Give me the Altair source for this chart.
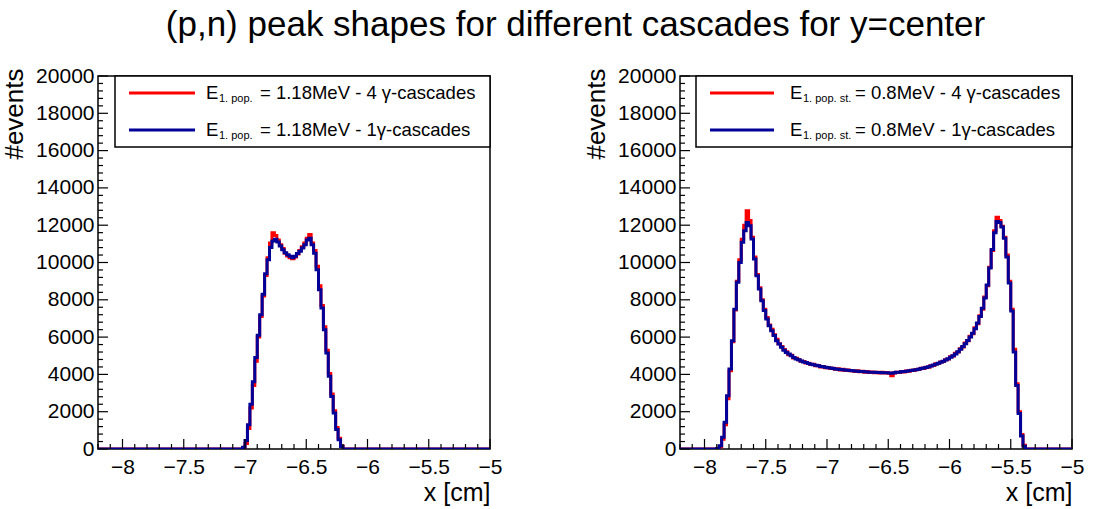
import altair as alt
import pandas as pd

FONT = "Liberation Sans"
BIN = 0.02
X_MIN, X_MAX = -8.2, -5.0
N_BINS = 160

# ---------------- data ----------------
left_start = -7.02
left_blue = [100, 450, 1300, 2400, 3600, 4900, 6100, 7200, 8300, 9400,
             10150, 10800, 11150, 11250, 11100, 10880, 10690, 10520, 10420, 10330,
             10250, 10330, 10480, 10600, 10780, 10950, 11200, 11300, 10950, 10500,
             9610, 8540, 7560, 6400, 5150, 3900, 2820, 1930, 1040, 500,
             140]
left_red = [30, 300, 1100, 2200, 3400, 4700, 6000, 7100, 8200, 9300,
            10250, 11050, 11600, 11450, 11200, 10950, 10750, 10500, 10350, 10250,
            10200, 10300, 10450, 10650, 10850, 11050, 11300, 11500, 11050, 10650,
            9800, 8750, 7700, 6550, 5300, 4050, 2950, 2050, 1150, 580,
            180]

right_start = -7.90
right_blue = [30, 180, 625, 1430, 2860, 4290, 5810, 7500, 8940, 10000,
              11080, 11700, 12150, 11970, 11260, 10190, 9290, 8580, 7950, 7420,
              6970, 6610, 6340, 6080, 5810, 5630, 5450, 5300, 5180, 5090,
              5000, 4910, 4830, 4780, 4720, 4670, 4640, 4590, 4550, 4520,
              4490, 4460, 4430, 4410, 4380, 4360, 4340, 4310, 4290, 4280,
              4260, 4250, 4230, 4220, 4210, 4190, 4180, 4170, 4160, 4150,
              4140, 4130, 4120, 4110, 4110, 4100, 4100, 4090, 4090, 4090,
              4080, 4060, 4090, 4110, 4120, 4140, 4150, 4170, 4190, 4210,
              4230, 4250, 4280, 4310, 4340, 4370, 4410, 4450, 4500, 4550,
              4600, 4650, 4700, 4770, 4840, 4920, 5000, 5100, 5220, 5350,
              5500, 5650, 5820, 6000, 6200, 6450, 6750, 7100, 7550, 8100,
              8800, 9700, 10700, 11600, 12200, 12150, 11900, 11300, 10300, 8900,
              7400, 5200, 3400, 1900, 700, 150]
right_red = [10, 120, 520, 1300, 2700, 4200, 5750, 7450, 9000, 10150,
             11250, 12000, 12780, 12250, 11350, 10300, 9350, 8650, 8000, 7500,
             7050, 6650, 6420, 6120, 5880, 5650, 5500, 5330, 5220, 5060,
             5030, 4880, 4860, 4790, 4700, 4690, 4610, 4600, 4530, 4540,
             4470, 4480, 4400, 4420, 4350, 4370, 4320, 4330, 4270, 4300,
             4240, 4270, 4210, 4240, 4190, 4200, 4150, 4190, 4140, 4170,
             4120, 4150, 4100, 4130, 4090, 4120, 4080, 4110, 4070, 4100,
             4060, 3930, 4070, 4120, 4100, 4150, 4130, 4180, 4170, 4220,
             4210, 4260, 4270, 4330, 4320, 4390, 4390, 4470, 4480, 4570,
             4580, 4670, 4690, 4790, 4820, 4950, 4980, 5130, 5200, 5380,
             5470, 5690, 5800, 6050, 6180, 6500, 6720, 7150, 7500, 8150,
             8750, 9750, 10650, 11700, 12420, 12250, 11950, 11350, 10400, 9000,
             7500, 5350, 3500, 2000, 780, 200]

x_major = [-8.0, -7.5, -7.0, -6.5, -6.0, -5.5, -5.0]
y_major = [0, 2000, 4000, 6000, 8000, 10000, 12000, 14000, 16000, 18000, 20000]

title_text = "(p,n) peak shapes for different cascades for y=center"

W, H = 392, 373
RED = "#ff0000"
BLUE = "#000099"


def hist_frame(start, vals, name):
    off = int(round((start - X_MIN) / BIN))
    full = [0.0] * N_BINS
    for i, v in enumerate(vals):
        full[off + i] = v
    rows = [{"x": round(X_MIN + i * BIN, 4), "v": full[i], "s": name} for i in range(N_BINS)]
    rows.append({"x": X_MAX, "v": full[-1], "s": name})
    return pd.DataFrame(rows)


xs = alt.Scale(domain=[X_MIN, X_MAX], nice=False, zero=False)
ys = alt.Scale(domain=[0, 20000], nice=False)

x_minor = [round(X_MIN + 0.1 * i, 2) for i in range(33)]
x_minor = [t for t in x_minor if all(abs(t - m) > 1e-6 for m in x_major)]
y_minor = [400 * i for i in range(51) if (400 * i) % 2000 != 0]

one = pd.DataFrame({"a": [0]})

xaxis = alt.Axis(values=x_major, format=".1~f", ticks=False, domain=False, grid=False,
                 labelFontSize=21, labelPadding=7, labelFlush=False, labelOverlap=False,
                 title="x [cm]", titleFontSize=25, titleFontWeight="normal",
                 titleX=W, titleY=51, titleAlign="right", titleBaseline="alphabetic")
yaxis = alt.Axis(values=y_major, format="d", ticks=False, domain=False, grid=False,
                 labelFontSize=21, labelPadding=4, labelOverlap=False, labelFlush=False,
                 title="#events", titleFontSize=26, titleFontWeight="normal",
                 titleX=-76, titleY=-8, titleAngle=270, titleAlign="right",
                 titleBaseline="alphabetic")


def panel(start, blue, red, sub, text4, text1, lg):
    dred = hist_frame(start, red, "red")
    dblue = hist_frame(start, blue, "blue")
    X = lambda f: alt.X(f, scale=xs, axis=xaxis, title="x [cm]")
    Y = lambda f: alt.Y(f, scale=ys, axis=yaxis, title="#events")
    red_l = alt.Chart(dred).mark_line(interpolate="step-after", color=RED, strokeWidth=3, clip=True).encode(
        x=X("x:Q"), y=Y("v:Q"))
    blue_l = alt.Chart(dblue).mark_line(interpolate="step-after", color=BLUE, strokeWidth=3, clip=True).encode(
        x=X("x:Q"), y=Y("v:Q"))

    xt_maj = alt.Chart(pd.DataFrame({"t": x_major})).mark_rule(color="black", strokeWidth=1.2).encode(
        x=X("t:Q"), y=alt.value(H), y2=alt.value(H - 10))
    xt_min = alt.Chart(pd.DataFrame({"t": x_minor})).mark_rule(color="black", strokeWidth=1.2).encode(
        x=X("t:Q"), y=alt.value(H), y2=alt.value(H - 5))
    yt_maj = alt.Chart(pd.DataFrame({"t": y_major})).mark_rule(color="black", strokeWidth=1.2).encode(
        y=Y("t:Q"), x=alt.value(0), x2=alt.value(10))
    yt_min = alt.Chart(pd.DataFrame({"t": y_minor})).mark_rule(color="black", strokeWidth=1.2).encode(
        y=Y("t:Q"), x=alt.value(0), x2=alt.value(5))

    box = alt.Chart(one).mark_rect(fill="white", stroke="black", strokeWidth=1.5).encode(
        x=alt.value(lg["box"]), x2=alt.value(W), y=alt.value(0), y2=alt.value(71))
    layers = [box]
    for yy, col, txt in [(17, RED, text4), (54, BLUE, text1)]:
        layers.append(alt.Chart(one).mark_rule(color=col, strokeWidth=3).encode(
            x=alt.value(lg["l0"]), x2=alt.value(lg["l1"]), y=alt.value(yy)))
        layers.append(alt.Chart(one).mark_text(align="left", baseline="middle", fontSize=18.5, font=FONT,
                                               color="black").encode(
            x=alt.value(lg["e"]), y=alt.value(yy), text=alt.value("E")))
        layers.append(alt.Chart(one).mark_text(align="left", baseline="middle", fontSize=11, font=FONT,
                                               color="black").encode(
            x=alt.value(lg["e"] + 13), y=alt.value(yy + 6), text=alt.value(sub)))
        layers.append(alt.Chart(one).mark_text(align="left", baseline="middle", fontSize=18.5, font=FONT,
                                               color="black").encode(
            x=alt.value(lg["t"]), y=alt.value(yy), text=alt.value(txt)))

    return alt.layer(red_l, blue_l, xt_maj, xt_min, yt_maj, yt_min, *layers).properties(width=W, height=H)


left = panel(left_start, left_blue, left_red, "1. pop.",
             "= 1.18MeV - 4 γ-cascades", "= 1.18MeV - 1γ-cascades",
             {"box": 17, "l0": 31, "l1": 97, "e": 108, "t": 162})
right = panel(right_start, right_blue, right_red, "1. pop. st.",
              "= 0.8MeV - 4 γ-cascades", "= 0.8MeV - 1γ-cascades",
              {"box": 16, "l0": 30, "l1": 94, "e": 110, "t": 175})

chart = alt.hconcat(left, right, spacing=79).properties(
    title=alt.TitleParams(title_text, fontSize=35, font=FONT, fontWeight="normal", anchor="middle",
                          color="black", offset=21, dx=33),
    padding={"left": 0, "top": 8, "right": 5, "bottom": 5},
    background="white",
).configure_view(stroke="black", strokeWidth=1.5).configure_axis(
    labelFont=FONT, titleFont=FONT, labelColor="black", titleColor="black")

chart.save("out.html", embed_options={"renderer": "svg", "actions": False})
